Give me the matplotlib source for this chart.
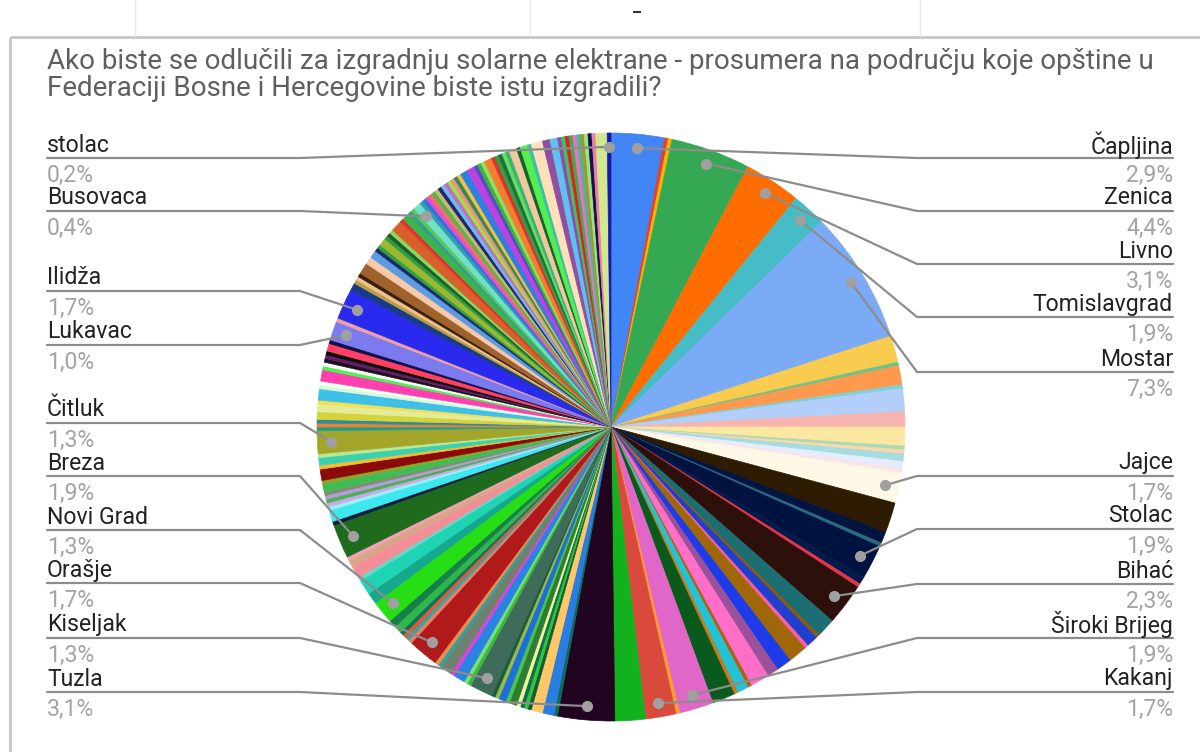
import matplotlib
matplotlib.use("Agg")
import matplotlib.pyplot as plt
import numpy as np

W, H = 1200, 752

# answers per municipality, clockwise from 12 o'clock (grouped by line)
counts = [
    14, 1, 1, 21, 15, 9, 35,
    7, 1, 5, 1, 6, 4, 5, 1, 1, 2, 2, 1, 8,
    8, 3, 1, 9, 2, 1, 11,
    5, 1, 3, 1, 5, 4, 3, 5, 1, 3, 1, 6,
    9, 1, 8, 8, 15,
    1, 3, 3, 1, 1, 1, 1, 2, 1, 2, 1, 1, 6,
    1, 1, 3, 1, 3, 1, 1, 8,
    1, 1, 1, 1, 2, 2, 6,
    3, 4, 1, 3, 2, 1, 9,
    1, 3, 1, 1, 1, 1, 1, 2, 1, 3, 1, 2, 1, 6,
    1, 1, 1, 2, 2, 1, 3, 1, 1, 3, 1, 1, 1, 1, 1, 2, 1, 5, 1, 8,
    2, 1, 1, 1, 3, 2, 2, 1, 1, 2, 1, 1, 1, 3, 1, 2, 1, 1, 2,
    1, 1, 1, 1, 1, 1, 1, 1, 1, 1, 1, 1, 1,
    2, 2, 1, 1, 1, 2, 1, 1, 1, 1, 1, 2, 1, 2, 1, 3, 2, 2, 1, 1,
    1, 1, 1, 1, 1, 1, 1, 1, 3, 1,
]

colors = [
    "#4285F4", "#DB4437", "#F4B400", "#34A853", "#FF6D01", "#46BDC6", "#7BAAF7",
    "#F9CB4F", "#71C287", "#FF994D", "#7ED1D7", "#B3CEFB", "#F7B4AE", "#FCE8A0",
    "#A8DAB5", "#FFD6A8", "#A5DCE0", "#E6ECFA", "#FBE3E6", "#FFF8E6",
    "#2D1B02", "#02143F", "#2A6A80", "#001240", "#031A4A", "#E8344A", "#2E100A",
    "#1C6E73", "#8A5A10", "#1F3FCF", "#FF5C9E", "#A0670A", "#1E3BE8", "#9B509B",
    "#FF6EC7", "#B06010", "#22C3D6", "#C77B1A", "#0B5A1D",
    "#E066C8", "#FF9A2E", "#D94A3C", "#12B21E", "#200420",
    "#0E6B5E", "#2A7DE1", "#FFC766", "#0C5E2E", "#34C240", "#0F6E4A", "#F0F5A0",
    "#2E7D32", "#49C64A", "#1C6FD8", "#9BB84A", "#1B5E3A", "#3E6B5A",
    "#3DB93A", "#76E07A", "#2A82E3", "#E040E0", "#6F806F", "#2FA39A", "#F08A50", "#B01A1A",
    "#E88060", "#3FA0A0", "#E05A30", "#0E7060", "#2FB84A", "#16804A", "#27DE14",
    "#15A88C", "#1FD4B4", "#6BD6C0", "#F58C98", "#D9A58A", "#F4A0B0", "#1E6B1E",
    "#0A1A40", "#3CE8EE", "#9AF0F5", "#C9A8E8", "#4CAF50", "#B39DDB", "#7E8F6E",
    "#3DBE55", "#8DA32A", "#8B0A0A", "#F0C030", "#3CD0B0", "#B8E890", "#A3A52A",
    "#1F9E8E", "#F08030", "#2E8B9A", "#D6D23A", "#E4EC9A", "#F5E050", "#3EC0E8",
    "#D8F8D8", "#F0FFF0", "#FF40B0", "#50F050", "#FAFAFA", "#201020", "#602060",
    "#0A0A0A", "#FF4060", "#10104A", "#7B7BEF", "#F0A0A0", "#2A2AEF",
    "#1A3A8C", "#B8A040", "#F0C090", "#3A2010", "#A0622D", "#F8C8A8", "#5C9CE0",
    "#1A2A6A", "#30A040", "#9CB830", "#2E9E3E", "#1E5E2E", "#8BD860", "#D8602A",
    "#E53030", "#3BB54A", "#2F9F8F", "#5BC85B", "#70E0C8",
    "#2E9FB0", "#3A6FD8", "#E050D0", "#F07060", "#4CB84C", "#C8B870", "#1A2A70",
    "#70B8F0", "#C070C0", "#A0E040", "#F09080", "#2E8B57", "#F0C040",
    "#2F7FE0", "#C040E0", "#5050C0", "#40B040", "#90E060", "#F08030", "#E03030",
    "#30A040", "#1E6E3E", "#60E060", "#3CB371", "#F0C8A0", "#1E5E2E", "#50F050",
    "#40C0A0", "#FFE0B8", "#9050A0", "#60C0F0", "#8A4FA8", "#40C060",
    "#E02020", "#3DAA55", "#F070C0", "#4FB39A", "#9A9A30", "#A0E080", "#101050",
    "#F080A0", "#D0E890", "#1A1AA8",
]

# municipalities that carry a label and the slice index they belong to
labeled = {
    "Čapljina": 0, "Zenica": 3, "Livno": 4, "Tomislavgrad": 5, "Mostar": 6,
    "Jajce": 19, "Stolac": 23, "Bihać": 26, "Široki Brijeg": 39, "Kakanj": 41,
    "Tuzla": 43, "Kiseljak": 56, "Orašje": 64, "Novi Grad": 71, "Breza": 78,
    "Čitluk": 92, "Lukavac": 110, "Ilidža": 112, "Busovaca": 131, "stolac": len(counts) - 1,
}

left_names = ["stolac", "Busovaca", "Ilidža", "Lukavac", "Čitluk",
              "Breza", "Novi Grad", "Orašje", "Kiseljak", "Tuzla"]
right_names = ["Čapljina", "Zenica", "Livno", "Tomislavgrad", "Mostar",
               "Jajce", "Stolac", "Bihać", "Široki Brijeg", "Kakanj"]

TITLE = ("Ako biste se odlučili za izgradnju solarne elektrane - prosumera na području koje opštine u\n"
         "Federaciji Bosne i Hercegovine biste istu izgradili?")

# layout (pixels, y measured from the top)
CX, CY, R = 611, 427, 294
LEFT_Y = [145, 198, 278, 332, 410, 463, 517, 570, 625, 679]
RIGHT_Y = [145, 198, 251, 304, 359, 463, 516, 571, 625, 679]
FONT = "Roboto"


def fy(y):
    return H - y


def pct_text(n, total):
    p = np.floor(1000.0 * n / total + 0.5) / 10.0
    return f"{p:.1f}".replace(".", ",") + "%"


assert len(counts) == len(colors), (len(counts), len(colors))
total = sum(counts)

fig = plt.figure(figsize=(W / 100, H / 100), dpi=100)
ax = fig.add_axes([0, 0, 1, 1])

wedges, _ = ax.pie(counts, colors=colors, startangle=90, counterclock=False,
                   center=(CX, fy(CY)), radius=R,
                   wedgeprops=dict(linewidth=0.5))
for w in wedges:
    w.set_edgecolor(w.get_facecolor())

ax.set_xlim(0, W)
ax.set_ylim(0, H)
ax.set_aspect("auto")
ax.axis("off")

# sheet frame around the chart
ax.plot([10, W], [fy(37), fy(37)], color="#C6C6C6", lw=2, solid_capstyle="butt")
ax.plot([10, 10], [fy(37), 0], color="#C6C6C6", lw=2, solid_capstyle="butt")
for gx in [135, 530, 920]:
    ax.plot([gx, gx], [fy(0), fy(36)], color="#EAEAEA", lw=1)
ax.plot([634, 640], [fy(12), fy(12)], color="#333333", lw=1.5)

ax.text(47, fy(75), TITLE, ha="left", va="center", fontsize=20,
        color="#5F5F5F", family=FONT, linespacing=0.98)

cum = np.cumsum(counts)
mid = 2 * np.pi * (cum - np.array(counts) / 2.0) / total
r_dot = 0.953 * R

line_kw = dict(color="#8C8C8C", lw=1.6, zorder=4, solid_capstyle="round")
for side, names, ys in [("left", left_names, LEFT_Y), ("right", right_names, RIGHT_Y)]:
    for name, y in zip(names, ys):
        i = labeled[name]
        dx = CX + r_dot * np.sin(mid[i])
        dy = CY - r_dot * np.cos(mid[i])
        ly = y + 13
        if side == "left":
            xs = [47, 300, dx]
            tx, ha = 47, "left"
        else:
            xs = [1173, 917, dx]
            tx, ha = 1173, "right"
        ax.plot(xs, [fy(ly), fy(ly), fy(dy)], **line_kw)
        ax.plot(dx, fy(dy), "o", ms=7, color="#A0A0A0", zorder=5)
        ax.text(tx, fy(y), name, ha=ha, va="center", fontsize=16.6,
                color="#222222", family=FONT, zorder=6)
        ax.text(tx, fy(y + 30), pct_text(counts[i], total), ha=ha, va="center",
                fontsize=16.6, color="#A3A3A3", family=FONT, zorder=6)

fig.savefig("out.png", dpi=100)
